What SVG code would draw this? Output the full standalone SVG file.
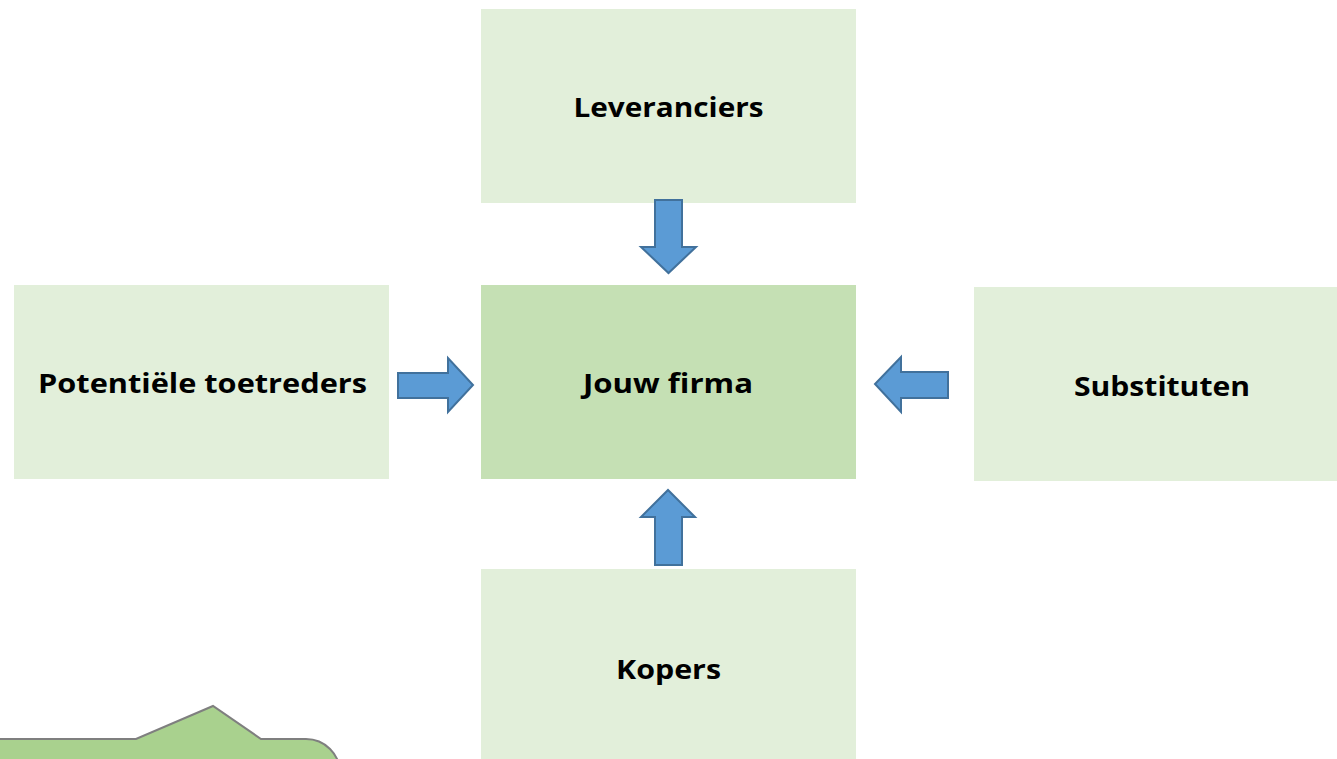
<svg xmlns="http://www.w3.org/2000/svg" width="1337" height="759" viewBox="0 0 1337 759">
  <defs>
    <style>
      .box { fill: #E2EFDA; }
      .core { fill: #C5E0B4; }
      .lbl { font-family: "Open Sans", "Liberation Sans", sans-serif; font-weight: 700; font-size: 26px; fill: #000; text-anchor: middle; }
      .arrow { fill: #5B9BD5; stroke: #41719C; stroke-width: 2; stroke-linejoin: miter; }
      .callout { fill: #A9D18E; stroke: #7F7F7F; stroke-width: 2; }
    </style>
  </defs>
  <rect width="1337" height="759" fill="#FFFFFF"/>

  <g id="leveranciers">
    <rect class="box" x="481" y="9" width="375" height="194"/>
    <text class="lbl" x="668.5" y="117" textLength="190" lengthAdjust="spacingAndGlyphs">Leveranciers</text>
  </g>

  <g id="toetreders">
    <rect class="box" x="14" y="285" width="375" height="194"/>
    <text class="lbl" x="202.5" y="393" textLength="329" lengthAdjust="spacingAndGlyphs">Potentiële toetreders</text>
  </g>

  <g id="firma">
    <rect class="core" x="481" y="285" width="375" height="194"/>
    <text class="lbl" x="668" y="393" textLength="170" lengthAdjust="spacingAndGlyphs">Jouw firma</text>
  </g>

  <g id="substituten">
    <rect class="box" x="974" y="287" width="363" height="194"/>
    <text class="lbl" x="1162" y="396" textLength="176" lengthAdjust="spacingAndGlyphs">Substituten</text>
  </g>

  <g id="kopers">
    <rect class="box" x="481" y="569" width="375" height="190"/>
    <text class="lbl" x="668.5" y="679" textLength="105" lengthAdjust="spacingAndGlyphs">Kopers</text>
  </g>

  <!-- block arrows pointing into the central firm -->
  <g id="connectors">
    <path class="arrow" d="M655,200 H682 V247 H696 L668.5,273 L641,247 H655 Z"/>
    <path class="arrow" d="M398,373 H448 V358 L473,385 L448,412 V398 H398 Z"/>
    <path class="arrow" d="M948,372 H901 V357 L875,384 L901,412 V398 H948 Z"/>
    <path class="arrow" d="M655,565 V517 H641 L668,490 L695,517 H682 V565 Z"/>
  </g>

  <!-- callout shape at the lower left edge -->
  <g id="callout">
    <path class="callout" d="M-4,739 H136 L213,706 L261,739 H306 A34,34 0 0 1 340,773 V790 H-4 Z"/>
  </g>
</svg>
